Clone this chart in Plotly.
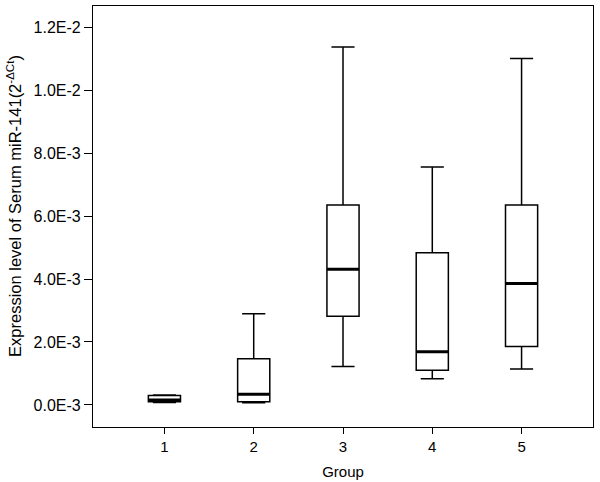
import plotly.graph_objects as go

# Данные (оценены по картинке), единицы 1E-3
groups = [1, 2, 3, 4, 5]
lower = [0.08, 0.07, 1.22, 0.83, 1.14]
q1 = [0.10, 0.10, 2.82, 1.10, 1.86]
median = [0.16, 0.34, 4.31, 1.69, 3.86]
q3 = [0.30, 1.47, 6.35, 4.83, 6.35]
upper = [0.32, 2.90, 11.37, 7.56, 11.00]

tick_vals = [0, 2, 4, 6, 8, 10, 12]
tick_text = ["0.0E-3", "2.0E-3", "4.0E-3", "6.0E-3", "8.0E-3", "1.0E-2", "1.2E-2"]

box_w = 0.36

fig = go.Figure()
fig.add_trace(go.Box(
    x=groups,
    q1=q1, median=median, q3=q3,
    lowerfence=lower, upperfence=upper,
    width=box_w,
    whiskerwidth=0.72,
    fillcolor="white",
    line=dict(color="black", width=1.5),
    boxpoints=False,
    showlegend=False,
    hoverinfo="skip",
))

# Медиана жирнее, как в оригинале
for g, m in zip(groups, median):
    fig.add_shape(type="line", xref="x", yref="y",
                  x0=g - box_w / 2, x1=g + box_w / 2, y0=m, y1=m,
                  line=dict(color="black", width=3))

# Подпись оси Y отдельной аннотацией, чтобы точнее поставить
fig.add_annotation(
    text="Expression level of Serum miR-141(2<sup>-ΔCt</sup>)",
    xref="paper", yref="paper", x=-0.158, y=0.525,
    xanchor="center", yanchor="middle", textangle=-90,
    showarrow=False, font=dict(size=16.5),
)

fig.update_layout(
    width=600, height=482,
    margin=dict(l=93, r=7, t=6, b=55, autoexpand=False),
    plot_bgcolor="white", paper_bgcolor="white",
    font=dict(family="Liberation Sans, Arial", size=15, color="black"),
)
fig.update_xaxes(
    range=[0.2, 5.8], tickvals=groups, ticktext=[str(g) for g in groups],
    ticks="outside", ticklen=6, tickwidth=1.2, tickcolor="black",
    tickfont=dict(size=15),
    showline=True, linecolor="black", linewidth=1.2, mirror=True,
    showgrid=False, zeroline=False,
    title=dict(text="Group", font=dict(size=15), standoff=12),
)
fig.update_yaxes(
    range=[-0.7, 12.67], tickvals=tick_vals, ticktext=tick_text,
    ticks="outside", ticklen=8, tickwidth=1.2, tickcolor="black",
    tickfont=dict(size=16),
    showline=True, linecolor="black", linewidth=1.2, mirror=True,
    showgrid=False, zeroline=False,
)

fig.write_html("out.html", config={"displayModeBar": False},
               post_script="document.body.style.margin='0';")
